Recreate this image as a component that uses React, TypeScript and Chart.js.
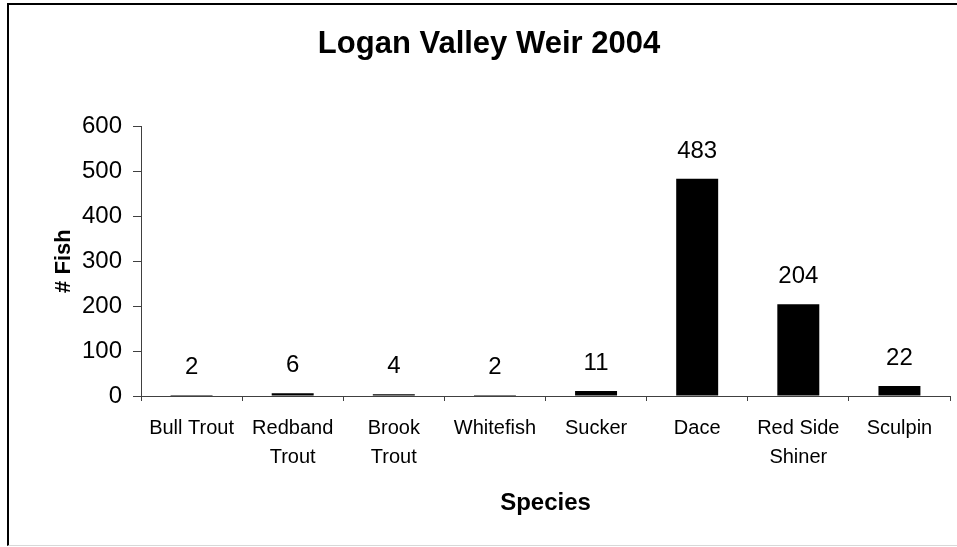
import React, { useEffect, useRef } from "react";
import { Chart, registerables } from "chart.js";

Chart.register(...registerables);

const chartTitle = "Logan Valley Weir 2004";
const categories: string[][] = [
  ["Bull Trout"],
  ["Redband", "Trout"],
  ["Brook", "Trout"],
  ["Whitefish"],
  ["Sucker"],
  ["Dace"],
  ["Red Side", "Shiner"],
  ["Sculpin"],
];
const fishCounts = [2, 6, 4, 2, 11, 483, 204, 22];
const yMin = 0;
const yMax = 600;
const yStep = 100;
const xAxisTitle = "Species";
const yAxisTitle = "# Fish";

const FONT = "'Liberation Sans', Arial, Helvetica, sans-serif";

const valueLabels = {
  id: "valueLabels",
  afterDatasetsDraw(chart: any) {
    const ctx = chart.ctx;
    const meta = chart.getDatasetMeta(0);
    const data = chart.data.datasets[0].data as number[];
    ctx.save();
    ctx.font = `24px ${FONT}`;
    ctx.fillStyle = "#000";
    ctx.textAlign = "center";
    ctx.textBaseline = "alphabetic";
    meta.data.forEach((bar: any, i: number) => {
      ctx.fillText(String(data[i]), bar.x, bar.y - 21);
    });
    ctx.restore();
  },
};

export default function App() {
  const canvasRef = useRef<HTMLCanvasElement | null>(null);

  useEffect(() => {
    if (!canvasRef.current) return;
    const chart = new Chart(canvasRef.current, {
      type: "bar",
      data: {
        labels: categories,
        datasets: [
          {
            data: fishCounts,
            backgroundColor: "#000",
            borderWidth: 0,
            barPercentage: 0.415,
            categoryPercentage: 1,
          },
        ],
      },
      plugins: [valueLabels],
      options: {
        responsive: false,
        animation: false,
        layout: { padding: { left: 28, right: 7, top: 0, bottom: 0 } },
        plugins: {
          legend: { display: false },
          tooltip: { enabled: false },
          title: {
            display: true,
            text: chartTitle,
            color: "#000",
            font: { family: FONT, size: 31, weight: "bold", lineHeight: 1.2 },
            padding: { top: 26, bottom: 63 },
          },
        },
        scales: {
          x: {
            grid: {
              display: true,
              drawOnChartArea: false,
              drawTicks: true,
              tickLength: 5,
              color: "#404040",
              offset: true,
            },
            border: { display: true, color: "#404040", width: 1 },
            ticks: {
              color: "#000",
              font: { family: FONT, size: 20, lineHeight: 1.45 },
              padding: 13,
              maxRotation: 0,
              autoSkip: false,
            },
            title: {
              display: true,
              text: xAxisTitle,
              color: "#000",
              font: { family: FONT, size: 24, weight: "bold", lineHeight: 1.2 },
              padding: { top: 0, bottom: 29 },
            },
            afterFit(scale: any) {
              scale.height = 151;
            },
          },
          y: {
            min: yMin,
            max: yMax,
            grid: {
              display: true,
              drawOnChartArea: false,
              drawTicks: true,
              tickLength: 8,
              color: "#404040",
            },
            border: { display: true, color: "#404040", width: 1 },
            ticks: {
              stepSize: yStep,
              color: "#000",
              font: { family: FONT, size: 24 },
              padding: 11,
            },
            title: {
              display: true,
              text: yAxisTitle,
              color: "#000",
              font: { family: FONT, size: 22, weight: "bold", lineHeight: 1.2 },
              padding: { top: 23, bottom: 0 },
            },
            afterFit(scale: any) {
              scale.width = 113;
            },
          },
        },
      },
    });
    return () => chart.destroy();
  }, []);

  return (
    <div
      style={{
        position: "fixed",
        left: 0,
        top: 0,
        width: 957,
        height: 547,
        background: "#fff",
        overflow: "hidden",
      }}
    >
      <canvas
        ref={canvasRef}
        width={957}
        height={547}
        style={{ display: "block", position: "absolute", left: 0, top: 0 }}
      />
      <div
        style={{
          position: "absolute",
          left: 7,
          top: 3,
          width: 960,
          height: 540,
          borderTop: "2px solid #000",
          borderLeft: "2px solid #000",
          borderBottom: "1px solid #d8d8d8",
          pointerEvents: "none",
        }}
      />
    </div>
  );
}
